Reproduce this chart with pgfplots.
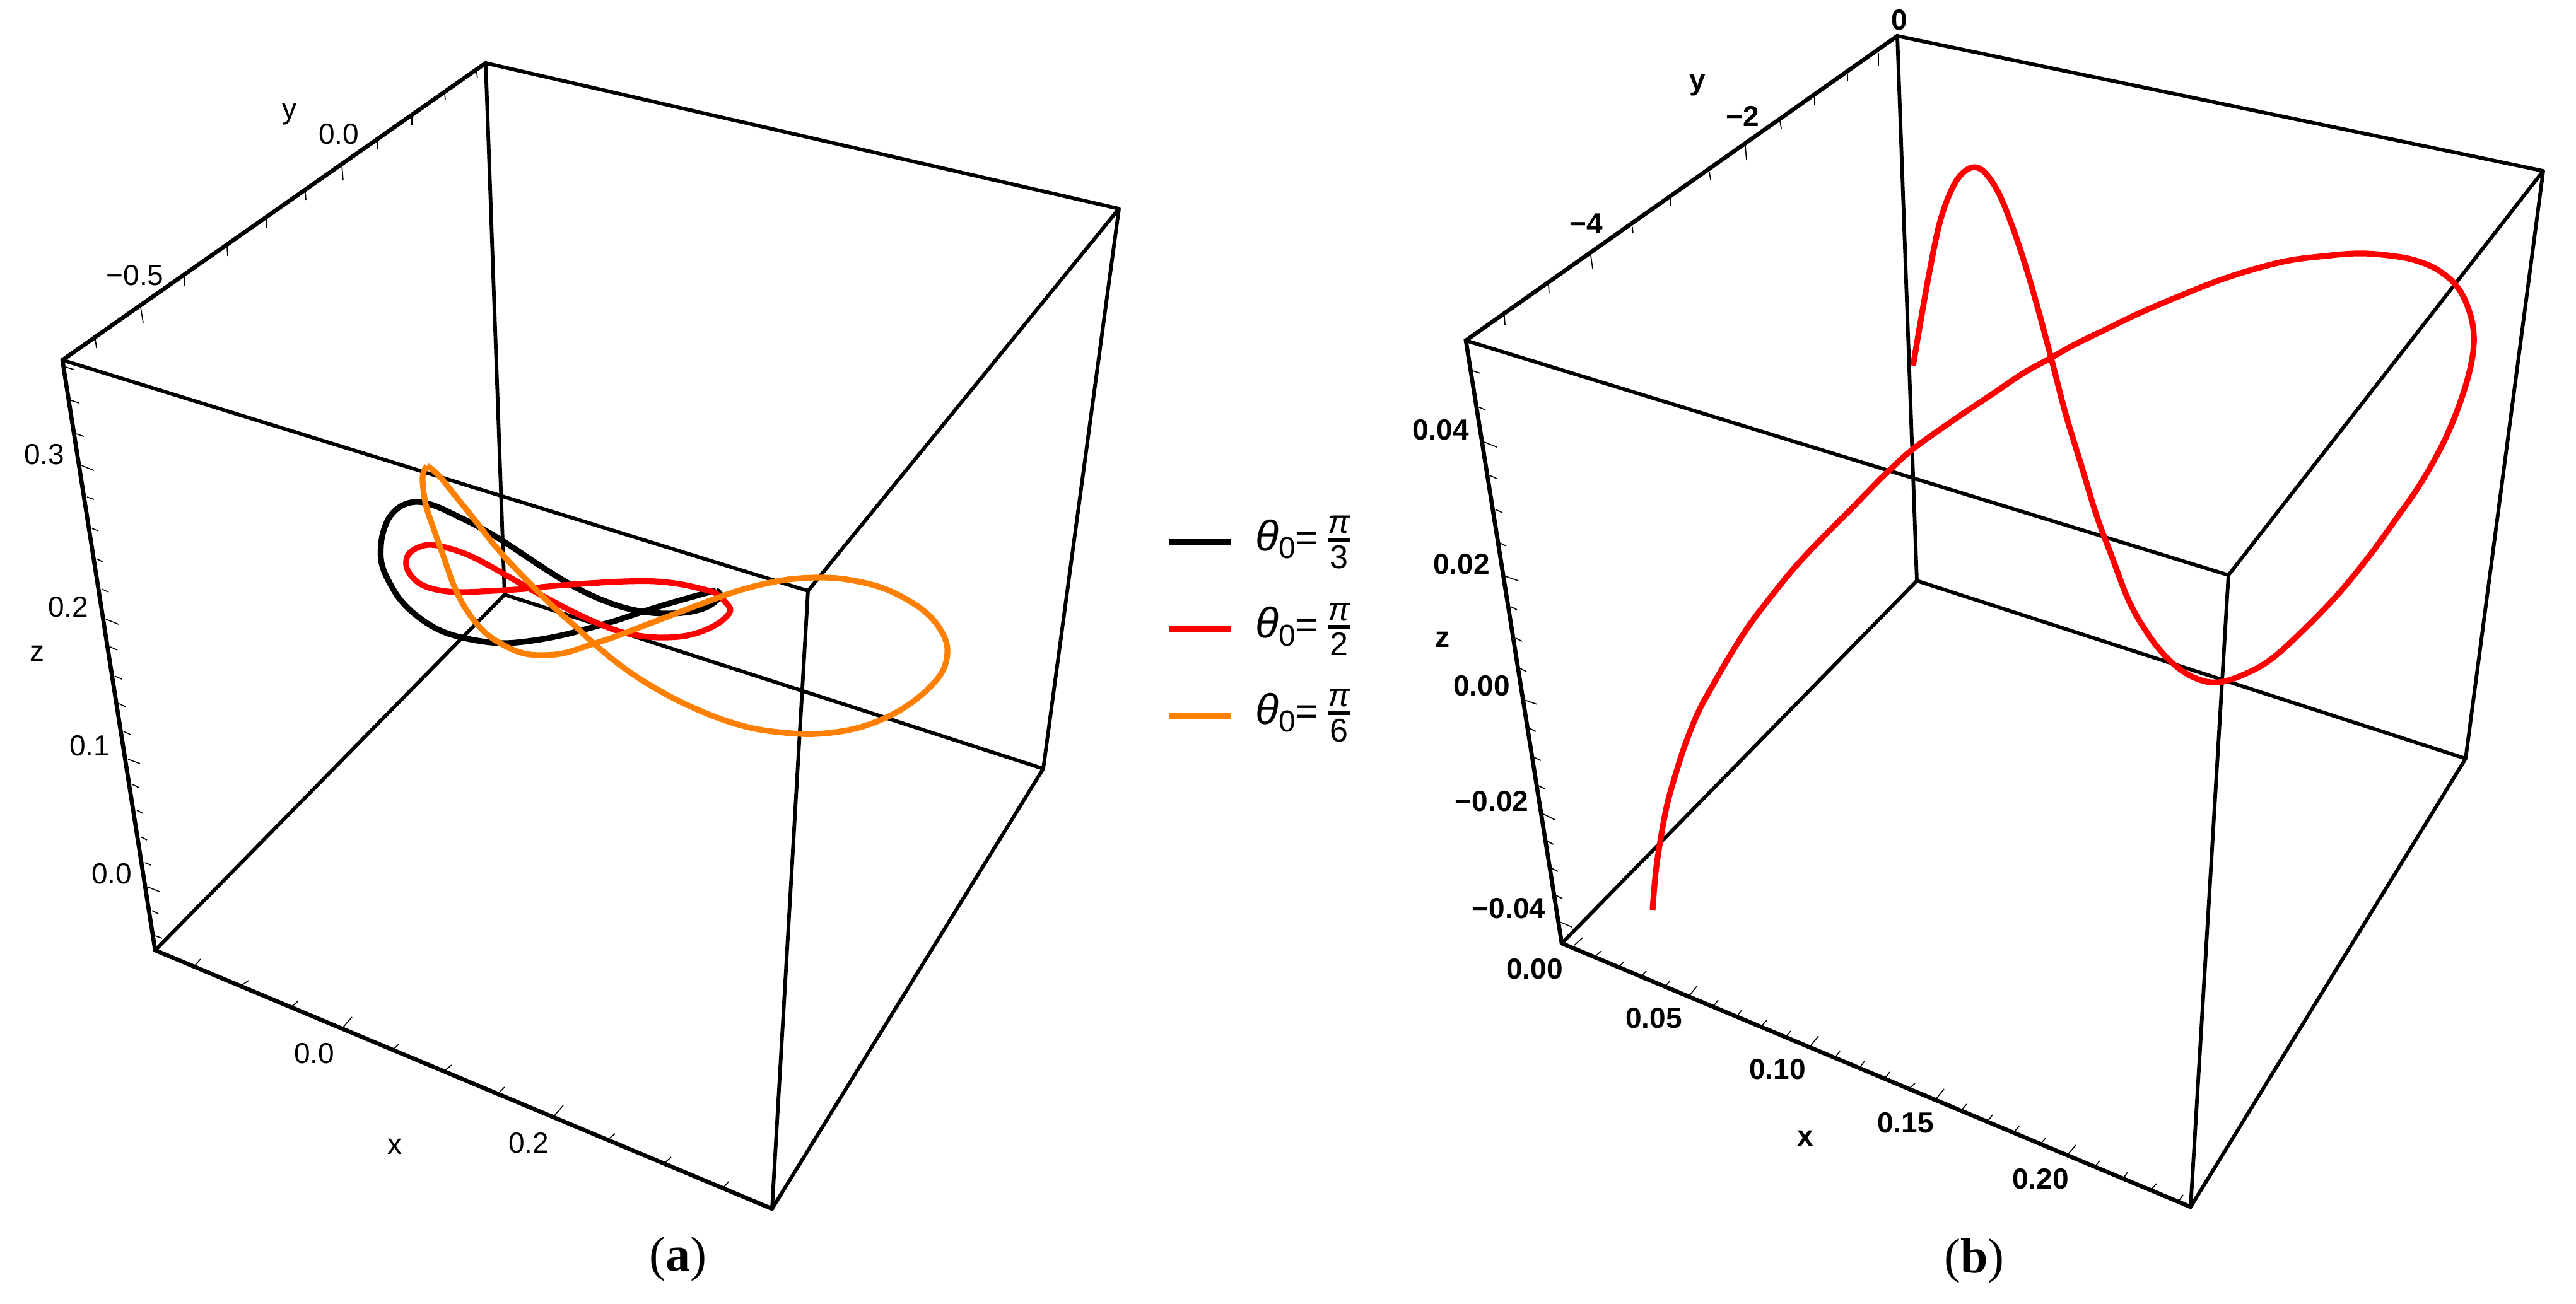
\documentclass[border=0pt]{standalone}
\usepackage{amsmath}
\usepackage{pgfplots}
\pgfplotsset{compat=1.18}
\usepackage{fontspec}
\setmainfont{Liberation Sans}
\newfontfamily\capfont{Liberation Serif}

\definecolor{curveorange}{HTML}{FF8000}
\definecolor{curvered}{HTML}{FF0000}

% all coordinates are pixels of the 4084x2068 picture, 1 px = 0.25pt
\pgfplotsset{
    panel/.style={
        scale only axis,
        hide axis,
        clip=false,
        enlargelimits=false,
        unbounded coords=jump,
        y dir=reverse,
        ymin=0, ymax=2068,
        height=517pt,
    },
    box/.style={black, line width=1.45pt, line join=round, forget plot},
    edge/.style={black, line width=1.65pt, line cap=round, forget plot},
    tickline/.style={black, line width=0.4pt, forget plot},
    curve/.style={line width=2.3pt, smooth, tension=0.6, line join=round},
    legline/.style={line width=2.5pt, forget plot},
}

\newcommand{\ticktext}{\fontsize{11.5}{13}\selectfont}
\newcommand{\legtext}[1]{%
    \fontsize{17}{20}\selectfont\textit{θ}{\fontsize{12}{14}\selectfont\raisebox{-0.5ex}{0}}%
    {\fontsize{15}{17}\selectfont=}\,%
    $\genfrac{}{}{1.5pt}{}{\mbox{\fontsize{13}{15}\selectfont\textit{π}}}{\mbox{\fontsize{13}{15}\selectfont #1}}$}

\begin{document}
\begin{tikzpicture}
\path[use as bounding box] (0,0) rectangle (1021pt,517pt);

% ---------- panel a ----------
\begin{axis}[
    panel,
    width=540pt,
    xmin=0, xmax=2160,
]
% box
\addplot[box] coordinates {
    (800,943) (770,100) (nan,nan) (800,943) (246,1507) (nan,nan) (800,943) (1654,1219)
    (nan,nan) (1281,937) (99,571) (nan,nan) (1281,937) (1774,331) (nan,nan) (1281,937) (1224,1917)
    (nan,nan) (770,100) (1774,331) (1654,1219) (1224,1917)
};
\addplot[edge] coordinates {
    (770,100) (99,571) (246,1507) (1224,1917)
};
% y ticks
\addplot[tickline] coordinates {
    (151,537) (153,552) (nan,nan) (223,487) (227,512) (nan,nan) (292,435) (293,453)
    (nan,nan) (360,392) (361,406) (nan,nan) (422,346) (423,361) (nan,nan) (484,305) (485,317)
    (nan,nan) (542,262) (544,286) (nan,nan) (598,221) (599,236) (nan,nan) (653,185) (653,198)
    (nan,nan) (705,148) (706,159) (nan,nan) (755,110) (757,124)
};
% z ticks
\addplot[tickline] coordinates {
    (104,582) (117,586) (nan,nan) (113,635) (125,639) (nan,nan) (121,688) (133,692)
    (nan,nan) (129,738) (149,746) (nan,nan) (138,788) (149,792) (nan,nan) (146,838) (156,842)
    (nan,nan) (153,886) (163,891) (nan,nan) (161,934) (172,939) (nan,nan) (168,982) (188,990)
    (nan,nan) (175,1026) (186,1031) (nan,nan) (182,1072) (193,1077) (nan,nan) (189,1116) (199,1121)
    (nan,nan) (196,1160) (207,1165) (nan,nan) (203,1204) (222,1211) (nan,nan) (210,1244) (220,1249)
    (nan,nan) (217,1285) (227,1290) (nan,nan) (223,1327) (233,1332) (nan,nan) (230,1368) (239,1372)
    (nan,nan) (235,1407) (253,1414) (nan,nan) (241,1444) (251,1449) (nan,nan) (246,1484) (257,1488)
};
% x ticks
\addplot[tickline] coordinates {
    (309,1531) (318,1521) (nan,nan) (384,1562) (394,1555) (nan,nan) (463,1596) (472,1588)
    (nan,nan) (544,1629) (558,1613) (nan,nan) (624,1664) (633,1655) (nan,nan) (706,1697) (716,1689)
    (nan,nan) (791,1733) (800,1724) (nan,nan) (879,1769) (893,1753) (nan,nan) (965,1806) (975,1798)
    (nan,nan) (1054,1844) (1064,1835) (nan,nan) (1147,1883) (1155,1874)
};

% theta0 = pi/3
\addplot[curve, black] coordinates {
    (1135,936) (1103,945) (1061,957) (1019,970) (977,984) (935,996) (893,1007)
    (844,1016) (795,1020) (746,1014) (703,1002) (668,982) (637,954) (616,921)
    (605,893) (604,864) (609,839) (619,818) (637,802) (661,796) (689,802)
    (724,818) (760,836) (802,861) (844,889) (886,916) (921,936) (956,952)
    (991,964) (1026,971) (1061,973) (1096,970) (1124,961) (1142,945) (1135,936)
};
% theta0 = pi/2
\addplot[curve, curvered] coordinates {
    (1121,936) (1082,927) (1040,922) (991,922) (935,925) (879,929) (830,934)
    (781,937) (731,939) (696,936) (668,927) (651,912) (644,896) (647,880)
    (661,869) (682,864) (710,869) (742,880) (774,896) (809,916) (844,936)
    (879,955) (914,973) (949,989) (984,1002) (1019,1009) (1054,1011) (1089,1008)
    (1121,998) (1145,984) (1158,968) (1149,954) (1135,941) (1121,936)
};
% theta0 = pi/6
\addplot[curve, curveorange] coordinates {
    (677,739) (670,757) (675,800) (689,843) (703,882) (721,932) (742,971)
    (770,1004) (802,1025) (830,1036) (858,1039) (893,1036) (935,1023) (977,1009)
    (1019,993) (1061,977) (1103,961) (1138,948) (1173,936) (1216,925) (1258,918)
    (1307,916) (1349,920) (1398,932) (1440,952) (1472,975) (1493,1002) (1502,1029)
    (1496,1061) (1475,1089) (1440,1118) (1398,1141) (1349,1157) (1293,1164)
    (1244,1162) (1194,1155) (1145,1141) (1096,1121) (1054,1100) (1012,1075)
    (977,1050) (942,1021) (914,995) (879,964) (844,929) (809,893) (781,861)
    (753,825) (724,789) (700,759) (686,745) (677,739)
};

% legend
\addplot[legline, black] coordinates {(1854,860) (1951,860)};
\addplot[legline, curvered] coordinates {(1854,998) (1951,998)};
\addplot[legline, curveorange] coordinates {(1854,1135) (1951,1135)};
\node[anchor=west, inner sep=0pt] at (axis cs:1990,860) {\legtext{3}};
\node[anchor=west, inner sep=0pt] at (axis cs:1990,998) {\legtext{2}};
\node[anchor=west, inner sep=0pt] at (axis cs:1990,1135) {\legtext{6}};

\node[font=\ticktext] at (axis cs:214,437) {−0.5};
\node[font=\ticktext] at (axis cs:537,213) {0.0};
\node[font=\ticktext] at (axis cs:459,181) {y};
\node[font=\ticktext] at (axis cs:70,721) {0.3};
\node[font=\ticktext] at (axis cs:108,963) {0.2};
\node[font=\ticktext] at (axis cs:142,1183) {0.1};
\node[font=\ticktext] at (axis cs:177,1386) {0.0};
\node[font=\ticktext] at (axis cs:59,1036) {z};
\node[font=\ticktext] at (axis cs:498,1671) {0.0};
\node[font=\ticktext] at (axis cs:838,1813) {0.2};
\node[font=\ticktext] at (axis cs:626,1818) {x};
\node[font=\capfont\fontsize{19.5}{21}\selectfont] at (axis cs:1075,1997) {(\textbf{a})};
\end{axis}

% ---------- panel b ----------
\begin{axis}[
    panel,
    at={(540pt,0pt)},
    width=481pt,
    xmin=2160, xmax=4084,
]
% box
\addplot[box] coordinates {
    (3039,921) (3008,57) (nan,nan) (3039,921) (2476,1496) (nan,nan) (3039,921) (3909,1203)
    (nan,nan) (3533,912) (2324,540) (nan,nan) (3533,912) (4032,271) (nan,nan) (3533,912) (3473,1914)
    (nan,nan) (3008,57) (4032,271) (3909,1203) (3473,1914)
};
\addplot[edge] coordinates {
    (3008,57) (2324,540) (2476,1496) (3473,1914)
};
% y ticks
\addplot[tickline] coordinates {
    (2385,501) (2386,515) (nan,nan) (2455,452) (2456,465) (nan,nan) (2522,405) (2525,426)
    (nan,nan) (2588,360) (2589,370) (nan,nan) (2649,314) (2649,327) (nan,nan) (2710,273) (2712,285)
    (nan,nan) (2767,232) (2769,254) (nan,nan) (2822,192) (2824,204) (nan,nan) (2877,153) (2877,166)
    (nan,nan) (2929,118) (2929,129) (nan,nan) (2978,84) (2978,104)
};
% z ticks
\addplot[tickline] coordinates {
    (2335,588) (2347,592) (nan,nan) (2343,645) (2355,650) (nan,nan) (2353,701) (2373,709)
    (nan,nan) (2362,754) (2373,759) (nan,nan) (2371,808) (2382,813) (nan,nan) (2378,861) (2388,866)
    (nan,nan) (2387,914) (2407,921) (nan,nan) (2395,962) (2405,967) (nan,nan) (2403,1012) (2413,1017)
    (nan,nan) (2410,1060) (2420,1065) (nan,nan) (2417,1110) (2437,1117) (nan,nan) (2425,1155) (2435,1160)
    (nan,nan) (2432,1201) (2443,1206) (nan,nan) (2439,1246) (2449,1251) (nan,nan) (2447,1291) (2465,1300)
    (nan,nan) (2453,1334) (2463,1339) (nan,nan) (2460,1377) (2470,1382) (nan,nan) (2467,1420) (2477,1425)
    (nan,nan) (2473,1462) (2492,1470)
};
% x ticks
\addplot[tickline] coordinates {
    (2496,1499) (2509,1487) (nan,nan) (2531,1515) (2539,1508) (nan,nan) (2568,1532) (2575,1525)
    (nan,nan) (2603,1547) (2610,1540) (nan,nan) (2641,1563) (2648,1555) (nan,nan) (2679,1578) (2691,1563)
    (nan,nan) (2717,1595) (2724,1586) (nan,nan) (2754,1611) (2762,1601) (nan,nan) (2793,1627) (2801,1618)
    (nan,nan) (2833,1642) (2839,1635) (nan,nan) (2871,1658) (2883,1643) (nan,nan) (2910,1676) (2917,1667)
    (nan,nan) (2949,1692) (2956,1683) (nan,nan) (2989,1709) (2996,1700) (nan,nan) (3028,1725) (3036,1718)
    (nan,nan) (3070,1742) (3082,1727) (nan,nan) (3111,1759) (3118,1751) (nan,nan) (3152,1777) (3159,1768)
    (nan,nan) (3193,1795) (3201,1786) (nan,nan) (3235,1814) (3244,1804) (nan,nan) (3278,1831) (3291,1816)
    (nan,nan) (3321,1850) (3329,1841) (nan,nan) (3366,1869) (3373,1859) (nan,nan) (3410,1887) (3419,1877)
    (nan,nan) (3454,1905) (3461,1895)
};

\addplot[curve, curvered] coordinates {
    (3033,580) (3044,515) (3058,436) (3075,354) (3093,303) (3110,276) (3130,265)
    (3149,276) (3170,309) (3191,361) (3212,424) (3233,497) (3254,576) (3275,657)
    (3300,739) (3324,818) (3349,885) (3377,957) (3412,1015) (3447,1054) (3482,1076)
    (3517,1082) (3559,1069) (3601,1045) (3651,1000) (3707,942) (3756,882) (3798,824)
    (3840,763) (3879,691) (3907,618) (3921,557) (3919,509) (3900,461) (3868,430)
    (3826,412) (3777,404) (3735,402) (3686,406) (3630,413) (3573,427) (3517,445)
    (3454,470) (3391,497) (3335,524) (3286,548) (3251,568) (3209,591) (3160,624)
    (3096,667) (3033,712) (2991,750) (2963,778) (2933,809) (2893,849) (2847,898)
    (2807,947) (2773,992) (2743,1039) (2717,1084) (2693,1128) (2673,1177) (2657,1226)
    (2643,1276) (2633,1329) (2625,1383) (2620,1443)
};

\node[font=\ticktext\bfseries] at (axis cs:2515,355) {−4};
\node[font=\ticktext\bfseries] at (axis cs:2763,184) {−2};
\node[font=\ticktext\bfseries] at (axis cs:3011,32) {0};
\node[font=\ticktext\bfseries] at (axis cs:2691,135) {y};
\node[font=\ticktext\bfseries] at (axis cs:2284,682) {0.04};
\node[font=\ticktext\bfseries] at (axis cs:2317,895) {0.02};
\node[font=\ticktext\bfseries] at (axis cs:2349,1088) {0.00};
\node[font=\ticktext\bfseries] at (axis cs:2365,1271) {−0.02};
\node[font=\ticktext\bfseries] at (axis cs:2392,1441) {−0.04};
\node[font=\ticktext\bfseries] at (axis cs:2287,1014) {z};
\node[font=\ticktext\bfseries] at (axis cs:2433,1537) {0.00};
\node[font=\ticktext\bfseries] at (axis cs:2622,1615) {0.05};
\node[font=\ticktext\bfseries] at (axis cs:2818,1696) {0.10};
\node[font=\ticktext\bfseries] at (axis cs:3021,1781) {0.15};
\node[font=\ticktext\bfseries] at (axis cs:3235,1870) {0.20};
\node[font=\ticktext\bfseries] at (axis cs:2862,1805) {x};
\node[font=\capfont\fontsize{19.5}{21}\selectfont] at (axis cs:3130,2000) {(\textbf{b})};
\end{axis}
\end{tikzpicture}
\end{document}
